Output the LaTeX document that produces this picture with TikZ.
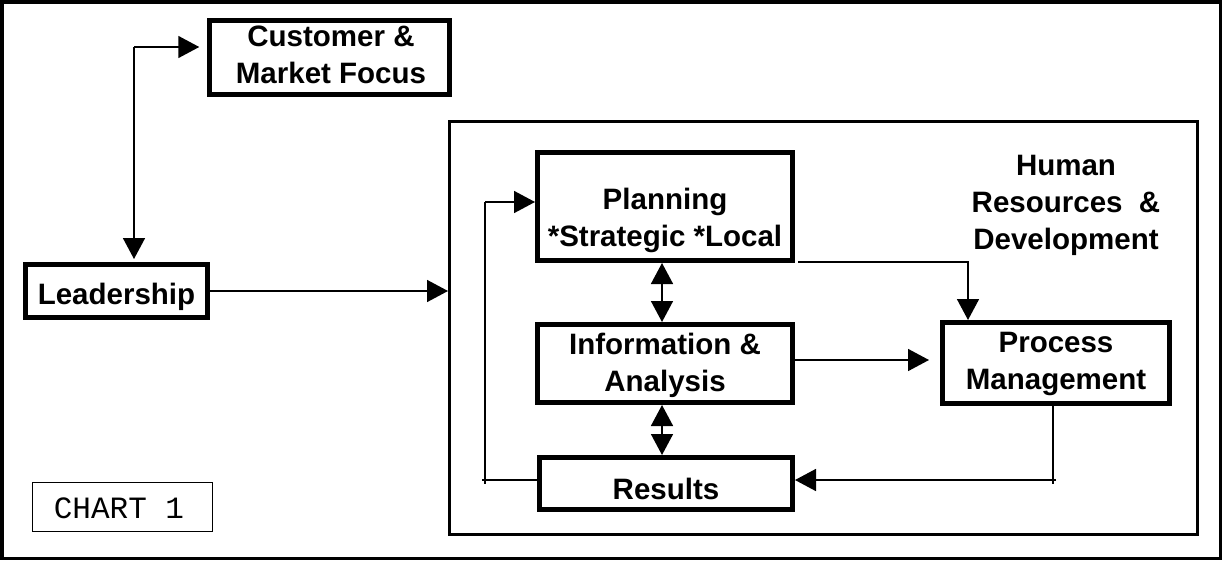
\documentclass[tikz,border=0pt]{standalone}
\usepackage{fontspec}
\setmainfont{Liberation Sans}
\newfontfamily\monof{Liberation Mono}
\usetikzlibrary{arrows.meta}
\begin{document}
\begin{tikzpicture}[x=1pt,y=-1pt,
  box/.style={draw,line width=5pt,minimum width=#1,inner sep=0pt},
  txt/.style={align=center,font=\fontsize{29.5}{37}\selectfont\bfseries,inner sep=0pt},
  conn/.style={line width=1.6pt},
  arr/.style={conn,-{Triangle[length=21pt,width=22pt]}},
  frameline/.style={draw,line width=3pt,inner sep=0pt}]
\useasboundingbox (0,0) rectangle (1222,560);
% outer frame
\draw[line width=3.5pt] (1.75,1.75) rectangle (1220.25,558.25);
% inner frame
\node[frameline,minimum width=748pt,minimum height=413pt] (frame) at (823.5,328) {};
% boxes
\node[box=239.5pt,minimum height=74.5pt] (cust) at (329.5,57.5) {};
\node[box=182pt,minimum height=53pt] (lead) at (116.5,291) {};
\node[box=255pt,minimum height=108pt] (plan) at (665,206.5) {};
\node[box=255pt,minimum height=78pt] (info) at (665,363.5) {};
\node[box=253pt,minimum height=52pt] (res) at (666,483.5) {};
\node[box=227pt,minimum height=81pt] (proc) at (1056,363) {};
\node[draw,line width=1.2pt,minimum width=180pt,minimum height=49pt,inner sep=0pt] (chart) at (122.5,507) {};
% texts
\node[txt] (custt) at (331,55) {Customer \&\\Market Focus};
\node[txt] (leadt) at (116.5,297) {Leadership};
\node[txt] (plant) at (665,220) {Planning\\*Strategic *Local};
\node[txt] (infot) at (665,365) {Information \&\\Analysis};
\node[txt] (rest) at (666,489) {Results};
\node[txt] (proct) at (1056,364) {Process\\Management};
\node[txt] (hrt) at (1066,205) {Human\\Resources \ \&\\Development};
\node[inner sep=0pt,font=\monof\fontsize{31}{33}\selectfont] (chartt) at (119,508) {CHART 1};
% connectors
\coordinate (c1) at (134,47);
\draw[arr,shorten >=8pt] (c1) -- (cust.west |- c1);
\draw[arr,shorten >=3pt] (c1) -- (c1 |- lead.north);
\draw[arr] (lead.east) -- (frame.west |- lead.east);
\coordinate (fb) at (485,480);
\coordinate (fbt) at (485,202);
\draw[conn] (res.west |- fb) -- (fb) -- (fbt);
\draw[conn] (482,480) -- (fb) -- (485,484);
\draw[arr] (fbt) -- (plan.west |- fbt);
\draw[arr] (662,290) -- (662,0 |- plan.south);
\draw[arr] (662,290) -- (662,0 |- info.north);
\draw[arr] (662,430) -- (662,0 |- info.south);
\draw[arr] (662,430) -- (662,0 |- res.north);
\coordinate (pp) at (968,300);
\draw[arr] ([xshift=3pt,yshift=1pt]plan.south east) -| (pp |- proc.north);
\draw[arr,shorten >=11pt] (info.east |- 0,360) -- (proc.west |- 0,360);
\coordinate (pr) at (1053,480);
\draw[arr] (pr |- proc.south) -- (pr) -- (res.east |- pr);
\draw[conn] (1056,480) -- (pr) -- (1053,484);
\end{tikzpicture}
\end{document}
